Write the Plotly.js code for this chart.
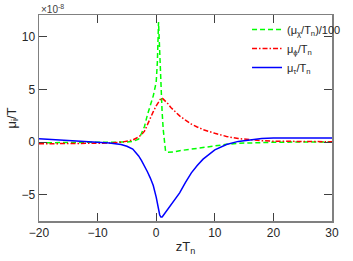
<!DOCTYPE html>
<html><head><meta charset="utf-8">
<script src="https://cdn.plot.ly/plotly-3.0.1.min.js"></script>
<style>html,body{margin:0;padding:0;background:#fff}#c{width:353px;height:261px}</style>
</head><body><div id="c"></div>
<script>
const zT = [-20,-15,-10,-8,-6,-5,-4,-3,-2.5,-2,-1.5,-1,-0.5,0,0.2,0.4,0.6,0.8,1.0,1.2,1.4,1.6,2,2.5,3,4,5,6,7,8,10,12,14,16,18,20,25,30];
const muChi = [-0.05,-0.05,-0.05,-0.03,0.0,0.02,0.08,0.3,0.85,1.5,2.6,3.4,4.4,5.7,7.6,11.4,8.2,5.4,3.0,1.2,0.0,-0.85,-0.95,-0.95,-0.92,-0.8,-0.72,-0.65,-0.58,-0.52,-0.35,-0.2,-0.1,-0.05,-0.02,0,0.02,0.03];
const muPhi = [-0.15,-0.15,-0.12,-0.08,0.0,0.08,0.22,0.5,0.72,1.05,1.7,2.3,2.9,3.45,3.65,3.85,4.0,4.15,4.2,4.1,4.0,3.9,3.65,3.3,3.0,2.5,2.1,1.72,1.45,1.2,0.85,0.55,0.35,0.22,0.15,0.1,0.06,0.05];
const muTau = [0.32,0.18,0.02,-0.08,-0.22,-0.38,-0.65,-1.3,-1.75,-2.25,-2.8,-3.4,-4.1,-5.2,-5.9,-6.5,-6.9,-7.1,-7.1,-6.95,-6.8,-6.65,-6.3,-5.9,-5.5,-4.8,-3.8,-2.9,-2.2,-1.6,-0.72,-0.22,0.08,0.25,0.35,0.4,0.42,0.4];
const names = ['(μ<sub>χ</sub>/T<sub>n</sub>)/100','μ<sub>ϕ</sub>/T<sub>n</sub>','μ<sub>τ</sub>/T<sub>n</sub>'];
const yTicks = [-5,0,5,10];
const xTicks = [-20,-10,0,10,20,30];

const traces = [
  {x: zT, y: muChi, name: names[0], mode:'lines', line:{color:'#00ff00', width:1.5, dash:'5px,3px'}},
  {x: zT, y: muPhi, name: names[1], mode:'lines', line:{color:'#ff0000', width:1.5, dash:'5px,2px,1.5px,2px'}},
  {x: zT, y: muTau, name: names[2], mode:'lines', line:{color:'#0000ff', width:1.5}}
];
const axCommon = {showgrid:false, zeroline:false, showline:true, linecolor:'#808080', linewidth:1.5, mirror:'ticks', ticks:'inside', ticklen:8, tickcolor:'#404040', tickwidth:1, tickfont:{family:'Liberation Sans, Arial', size:12, color:'#262626'}};
const layout = {
  width:353, height:261,
  margin:{l:39, r:7, t:15, b:40},
  paper_bgcolor:'#fff', plot_bgcolor:'#fff',
  font:{family:'Liberation Sans, Arial', size:11, color:'#262626'},
  xaxis: Object.assign({}, axCommon, {range:[-20,30], tickvals:xTicks, title:{text:'zT<sub>n</sub>', font:{size:13}, standoff:3}}),
  yaxis: Object.assign({}, axCommon, {range:[-7.47,12.07], tickvals:yTicks, title:{text:'μ<sub>i</sub>/T', font:{size:13}, standoff:2}}),
  showlegend:true,
  legend:{x:0.71, y:1, xanchor:'left', yanchor:'top', bgcolor:'rgba(255,255,255,0)', borderwidth:0, font:{size:11, color:'#262626'}, itemwidth:30, tracegroupgap:0},
  annotations:[{xref:'paper', yref:'paper', x:0, y:1, xanchor:'left', yanchor:'bottom', showarrow:false, text:'×10<sup>-8</sup>', font:{size:10, color:'#404040'}, yshift:-2}]
};
Plotly.newPlot('c', traces, layout, {displayModeBar:false, staticPlot:true});
</script></body></html>
